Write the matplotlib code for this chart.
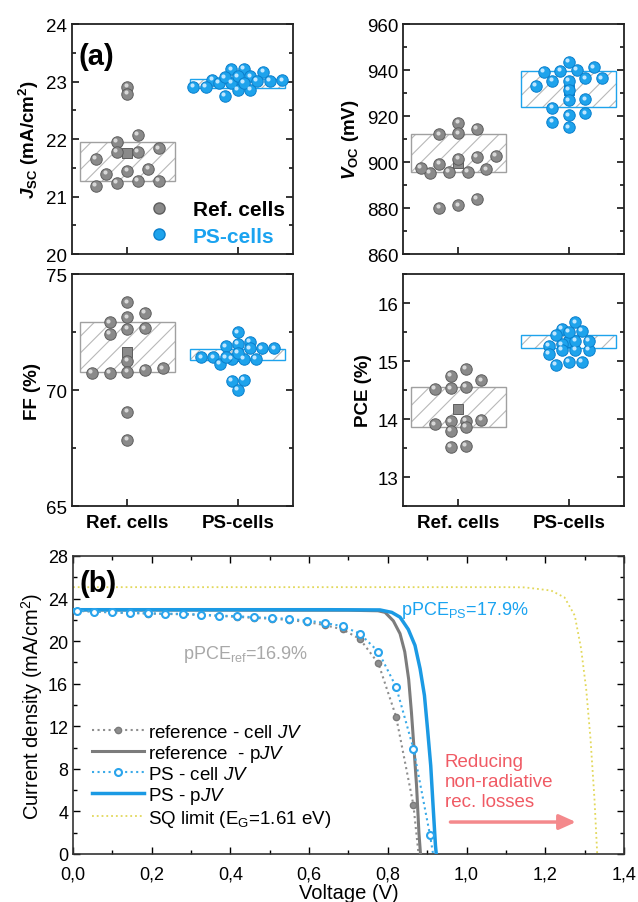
import numpy as np
import matplotlib
matplotlib.use('Agg')
import matplotlib.pyplot as plt
from matplotlib.lines import Line2D
from matplotlib.transforms import offset_copy
from matplotlib.ticker import MultipleLocator, FuncFormatter

plt.rcParams['font.family'] = ['Liberation Sans', 'DejaVu Sans']
plt.rcParams['mathtext.fontset'] = 'custom'
plt.rcParams['mathtext.rm'] = 'Liberation Sans'
plt.rcParams['mathtext.it'] = 'Liberation Sans:italic'
plt.rcParams['mathtext.bf'] = 'Liberation Sans:bold'
try:
    plt.rcParams['mathtext.bfit'] = 'Liberation Sans:bold:italic'
except KeyError:
    pass
plt.rcParams['hatch.linewidth'] = 0.8

# ---- (a) statistics of the cells ----
categories = ['Ref. cells', 'PS-cells']

jsc_ref = [22.91, 22.79, 22.07, 21.95, 21.84, 21.78, 21.78, 21.66, 21.48, 21.45,
           21.40, 21.27, 21.27, 21.19, 21.24]
jsc_ps = [23.22, 22.85, 22.86, 23.02, 23.09, 22.98, 23.03, 22.75, 22.91, 23.17,
          23.21, 23.01, 22.98, 23.09, 22.98, 22.91, 23.01, 23.07]
jsc_box = [(21.27, 21.95, 21.75), (22.88, 23.05, 22.98)]   # (low, high, mean)

voc_ref = [914.3, 916.9, 912.5, 912.0, 902.2, 902.6, 901.4, 899.3, 895.4, 895.7,
           895.7, 897.4, 896.8, 880.2, 881.1, 883.9]
voc_ps = [933.2, 939.3, 940.1, 941.1, 943.6, 939.7, 936.4, 935.4, 936.4, 935.4,
          931.5, 926.8, 927.2, 923.5, 920.3, 921.1, 917.5, 915.1]
voc_box = [(895.5, 912.2, 899.5), (923.8, 939.6, 931.5)]

ff_ref = [73.78, 73.32, 73.13, 72.92, 72.66, 72.41, 72.63, 71.26, 70.94, 70.73,
          70.73, 70.88, 70.79, 69.07, 67.86]
ff_ps = [71.41, 71.80, 71.88, 71.98, 72.49, 72.08, 71.80, 71.41, 71.12, 71.34,
         71.34, 71.41, 71.80, 71.34, 71.59, 70.44, 70.40, 70.01]
ff_box = [(70.79, 72.92, 71.62), (71.29, 71.77, 71.45)]

pce_ref = [14.86, 14.67, 14.52, 14.55, 14.53, 14.74, 13.96, 13.97, 13.99, 13.91,
           13.80, 13.87, 13.54, 13.52]
pce_ps = [15.29, 15.19, 15.19, 15.35, 15.19, 15.56, 15.67, 15.52, 15.45, 15.26,
          15.13, 15.35, 14.99, 14.99, 14.93, 15.50]
pce_box = [(13.87, 14.55, 14.18), (15.22, 15.45, 15.33)]

# ---- (b) JV curves ----
ref_cell_v = [0.009, 0.054, 0.100, 0.145, 0.190, 0.235, 0.280, 0.325, 0.371, 0.416,
              0.460, 0.505, 0.549, 0.594, 0.640, 0.685, 0.729, 0.776, 0.821, 0.865, 0.878]
ref_cell_j = [22.85, 22.76, 22.69, 22.63, 22.59, 22.55, 22.52, 22.45, 22.36, 22.28,
              22.18, 22.10, 21.98, 21.80, 21.50, 21.10, 20.20, 17.90, 12.90, 4.60, 0.0]
ps_cell_v = [0.009, 0.054, 0.100, 0.145, 0.190, 0.235, 0.280, 0.325, 0.371, 0.416,
             0.460, 0.505, 0.549, 0.594, 0.640, 0.685, 0.729, 0.776, 0.821, 0.865, 0.907, 0.915]
ps_cell_j = [22.87, 22.78, 22.71, 22.65, 22.62, 22.58, 22.56, 22.49, 22.40, 22.34,
             22.24, 22.18, 22.09, 21.93, 21.71, 21.40, 20.70, 19.00, 15.70, 9.90, 1.80, 0.0]
ref_p_v = [0.0, 0.70, 0.775, 0.793, 0.814, 0.831, 0.843, 0.853, 0.860, 0.866, 0.873, 0.879, 0.883]
ref_p_j = [22.92, 22.90, 22.85, 22.70, 21.90, 20.70, 19.00, 16.40, 13.30, 10.20, 6.40, 2.00, 0.0]
ps_p_v = [0.0, 0.653, 0.780, 0.810, 0.831, 0.852, 0.869, 0.882, 0.893, 0.901, 0.909, 0.915, 0.921, 0.923]
ps_p_j = [22.95, 22.95, 22.93, 22.70, 22.25, 21.10, 19.60, 17.40, 14.90, 11.70, 8.30, 4.50, 0.80, 0.0]
sq_v = [0.0, 1.10, 1.148, 1.215, 1.249, 1.275, 1.291, 1.304, 1.315, 1.325, 1.332]
sq_j = [25.07, 25.07, 25.05, 24.75, 24.10, 22.40, 19.30, 15.50, 10.80, 5.20, 0.0]

GRAY, GRAY_E, GRAY_H = '#8a8a8a', '#5e5e5e', '#d8d8d8'
BLUE, BLUE_E, BLUE_H = '#1ea3ec', '#0a7fcc', '#bfe6ff'
BLUE_TXT = '#1aa3f0'


def binned_offsets(vals, binw, step):
    vals = np.asarray(vals)
    keys = np.round(vals / binw).astype(int)
    off = np.zeros(len(vals))
    for k in np.unique(keys):
        idx = np.where(keys == k)[0]
        idx = idx[np.argsort(vals[idx])]
        off[idx] = (np.arange(len(idx)) - (len(idx) - 1) / 2) * step
    return off


def balls(ax, x, y, face, edge, hi, s=68):
    ax.scatter(x, y, s=s, c=face, edgecolors=edge, linewidths=0.7, zorder=4)
    tr = offset_copy(ax.transData, fig=ax.figure, x=-1.2, y=1.2, units='points')
    ax.scatter(x, y, s=s * 0.13, c=hi, linewidths=0, transform=tr, zorder=5)


def stat_panel(ax, ref, ps, boxes, bins, steps, ylim, major, minor, ylabel, xlabels):
    groups = [(ref, GRAY, GRAY_E, GRAY_H), (ps, BLUE, BLUE_E, BLUE_H)]
    for i, (vals, face, edge, hi) in enumerate(groups):
        pos = i + 1
        lo, hi_, mean = boxes[i]
        ax.bar(pos, hi_ - lo, bottom=lo, width=0.86, color='none', edgecolor='#b8b8b8',
               hatch='//', linewidth=0, zorder=2)
        ax.bar(pos, hi_ - lo, bottom=lo, width=0.86, color='none',
               edgecolor='#a0a0a0' if i == 0 else BLUE, linewidth=1.0, zorder=3)
        ax.scatter([pos], [mean], marker='s', s=55, c=face, edgecolors=edge, linewidths=0.7, zorder=3.5)
        x = pos + binned_offsets(vals, bins[i], steps[i])
        balls(ax, x, vals, face, edge, hi)
    ax.set_xlim(0.5, 2.5)
    ax.set_ylim(*ylim)
    ax.set_xticks([1, 2])
    ax.set_xticklabels(categories if xlabels else [], fontsize=13.5, fontweight='bold')
    ax.yaxis.set_major_locator(MultipleLocator(major))
    ax.yaxis.set_minor_locator(MultipleLocator(minor))
    ax.tick_params(axis='both', which='both', direction='in', right=True, labelsize=13.5, width=1.1)
    ax.tick_params(axis='both', which='major', length=5)
    ax.tick_params(axis='both', which='minor', length=3)
    ax.tick_params(axis='x', pad=6)
    ax.set_ylabel(ylabel, fontsize=13.5, fontweight='bold')
    for sp in ax.spines.values():
        sp.set_linewidth(1.3)
        sp.set_color('#222222')


fig = plt.figure(figsize=(6.38, 9.03), dpi=100)

ax1 = fig.add_axes([0.1129, 0.7176, 0.3464, 0.2547])
ax2 = fig.add_axes([0.6317, 0.7176, 0.3464, 0.2547])
ax3 = fig.add_axes([0.1129, 0.4385, 0.3464, 0.2569])
ax4 = fig.add_axes([0.6317, 0.4385, 0.3464, 0.2569])

stat_panel(ax1, jsc_ref, jsc_ps, jsc_box, (0.25, 0.15), (0.19, 0.115), (20, 24), 1, 0.5,
           r'$\mathbfit{J}_{\mathbf{SC}}$ (mA/cm$^{\mathbf{2}}$)', False)
stat_panel(ax2, voc_ref, voc_ps, voc_box, (6.0, 5.0), (0.17, 0.15), (860, 960), 20, 10,
           r'$\mathbfit{V}_{\mathbf{OC}}$ (mV)', False)
stat_panel(ax3, ff_ref, ff_ps, ff_box, (0.6, 0.4), (0.16, 0.11), (65, 75), 5, 2.5,
           'FF (%)', True)
stat_panel(ax4, pce_ref, pce_ps, pce_box, (0.2, 0.15), (0.14, 0.12), (12.5, 16.5), 1, 0.5,
           'PCE (%)', True)

ax1.text(0.03, 0.86, '(a)', transform=ax1.transAxes, fontsize=21, fontweight='bold',
         va='center', ha='left')
leg_handles = [Line2D([], [], marker='o', ls='none', ms=8, mfc=GRAY, mec=GRAY_E),
               Line2D([], [], marker='o', ls='none', ms=8, mfc=BLUE, mec=BLUE_E)]
ax1.legend(leg_handles, categories, loc='lower right', frameon=False,
           prop={'size': 15, 'weight': 'bold'}, labelcolor=['black', BLUE_TXT],
           handletextpad=0.6, labelspacing=0.35, borderaxespad=0.0)

# ---- (b) ----
axb = fig.add_axes([0.1144, 0.0532, 0.8636, 0.33])
axb.plot(sq_v, sq_j, ls=':', color='#e2d85a', lw=1.3, label='SQ limit (E$_\\mathrm{G}$=1.61 eV)', zorder=1)
axb.plot(ref_cell_v, ref_cell_j, ls=':', color='#8e8e8e', lw=1.5, marker='o', ms=4.5,
         mfc='#8e8e8e', mec='#7a7a7a', markevery=list(range(len(ref_cell_v) - 1)),
         label='reference - cell $JV$', zorder=2)
axb.plot(ref_p_v, ref_p_j, ls='-', color='#7c7c7c', lw=2.2, label='reference  - p$JV$', zorder=3)
axb.plot(ps_cell_v, ps_cell_j, ls=':', color='#3aaae8', lw=1.5, marker='o', ms=5,
         mfc='white', mec='#2aa4ec', mew=1.5, markevery=list(range(len(ps_cell_v) - 1)),
         label='PS - cell $JV$', zorder=4)
axb.plot(ps_p_v, ps_p_j, ls='-', color='#1b9ae4', lw=2.5, label='PS - p$JV$', zorder=3.5)

axb.set_xlim(0, 1.4)
axb.set_ylim(0, 28)
axb.xaxis.set_major_locator(MultipleLocator(0.2))
axb.xaxis.set_minor_locator(MultipleLocator(0.1))
axb.yaxis.set_major_locator(MultipleLocator(4))
axb.yaxis.set_minor_locator(MultipleLocator(2))
axb.xaxis.set_major_formatter(FuncFormatter(lambda v, p: f'{v:.1f}'.replace('.', ',')))
axb.tick_params(axis='both', which='both', direction='in', top=True, right=True,
                labelsize=13, width=1.0)
axb.tick_params(axis='both', which='major', length=5)
axb.tick_params(axis='both', which='minor', length=3)
axb.tick_params(axis='x', pad=8)
axb.set_xlabel('Voltage (V)', fontsize=14.5, labelpad=1)
axb.set_ylabel('Current density (mA/cm$^2$)', fontsize=14.5, labelpad=2)
for sp in axb.spines.values():
    sp.set_linewidth(1.2)
    sp.set_color('#333333')

handles, labels = axb.get_legend_handles_labels()
order = [1, 2, 3, 4, 0]
axb.legend([handles[i] for i in order], [labels[i] for i in order], loc='lower left',
           bbox_to_anchor=(0.02, 0.06), frameon=False, fontsize=13.5, handlelength=2.8,
           handletextpad=0.2, labelspacing=0.1, borderaxespad=0.0)

axb.text(0.012, 0.955, '(b)', transform=axb.transAxes, fontsize=21, fontweight='bold',
         va='top', ha='left')
axb.text(0.28, 18.8, 'pPCE$_\\mathrm{ref}$=16.9%', color='#a8a8a8', fontsize=13, va='center')
axb.text(0.833, 23.0, 'pPCE$_\\mathrm{PS}$=17.9%', color=BLUE_TXT, fontsize=13, va='center')
axb.text(0.944, 9.5, 'Reducing\nnon-radiative\nrec. losses', color='#f05a64', fontsize=13.5,
         va='top', ha='left', linespacing=1.25)
axb.annotate('', xy=(1.285, 3.0), xytext=(0.952, 3.0),
             arrowprops=dict(arrowstyle='-|>,head_length=1.0,head_width=0.45',
                             color='#f4898c', lw=2.5))

fig.savefig('out.png', dpi=100)
